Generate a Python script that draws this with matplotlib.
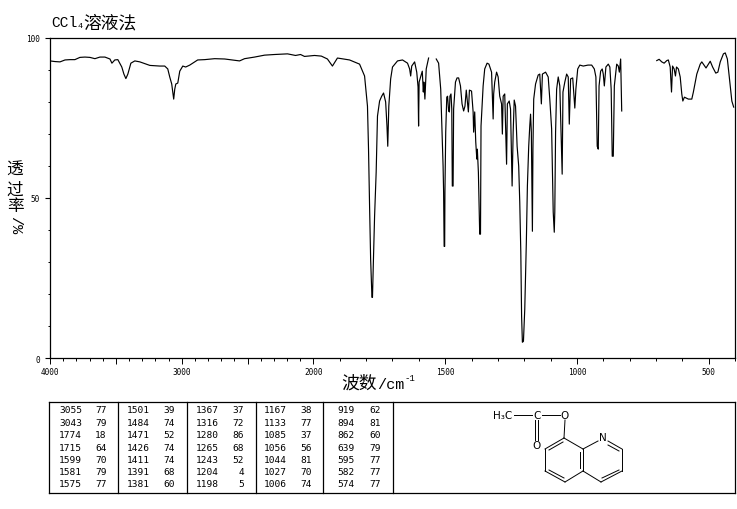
import numpy as np
import matplotlib
matplotlib.use('Agg')
import matplotlib.pyplot as plt
from matplotlib.ticker import FixedLocator, FixedFormatter

# espectro (numero de onda, transmitancia), tres trechos porque a linha tem falhas
wn_a = [4000, 3962, 3924, 3886, 3848, 3811, 3773, 3735, 3697, 3659, 3621, 3583, 3545, 3530, 3508, 3485,
        3455, 3439, 3424, 3409, 3386, 3356, 3318, 3242, 3167, 3129, 3106, 3091, 3076, 3061, 3053, 3045,
        3030, 3015, 2992, 2970, 2939, 2879, 2826, 2750, 2674, 2561, 2523, 2447, 2371, 2295, 2197, 2136,
        2098, 2068, 1996, 1970, 1947, 1928, 1909, 1863, 1825, 1806,
        1795, 1791, 1787, 1783, 1778, 1776, 1773, 1768, 1762, 1757, 1749, 1741, 1734, 1726, 1721, 1718,
        1714, 1707, 1700, 1681, 1662, 1643, 1635, 1631, 1627, 1616, 1608, 1603, 1601, 1599, 1587, 1583,
        1581, 1577, 1572, 1563]
t_a = [92.7, 92.5, 92.4, 93.0, 93.1, 93.1, 93.8, 93.9, 93.8, 93.4, 93.9, 93.9, 93.3, 92.0, 93.0, 93.1,
       90.8, 88.6, 87.2, 88.6, 92.0, 92.7, 92.4, 91.3, 91.1, 91.1, 90.2, 87.7, 85.5, 80.8, 83.9, 85.5,
       85.8, 89.5, 91.1, 90.8, 91.4, 93.0, 93.1, 93.4, 93.3, 92.7, 93.4, 93.9, 94.5, 94.7, 94.9, 94.4,
       94.7, 94.1, 94.4, 94.2, 93.3, 91.1, 93.6, 93.0, 91.7, 88.0,
       78.6, 65.2, 47.4, 30.9, 19.0, 19.0, 28.7, 44.3, 58.0, 75.5, 80.2, 81.7, 82.7, 79.9, 72.4, 66.1,
       78.6, 87.1, 90.8, 92.7, 93.0, 92.0, 90.2, 88.0, 91.1, 92.4, 89.2, 84.6, 72.4, 86.1, 89.5, 83.0,
       86.1, 80.8, 90.2, 93.6]

wn_b = [1534, 1525, 1517, 1512, 1508, 1506, 1504, 1502, 1501, 1498, 1494, 1491, 1487, 1484, 1482, 1478,
        1475, 1473, 1470, 1468, 1461, 1455, 1449, 1442, 1436, 1430, 1425, 1420, 1412, 1408, 1400, 1394,
        1392, 1388, 1384, 1380, 1378, 1374, 1369, 1366, 1364, 1356, 1350, 1341, 1334, 1324, 1318, 1316,
        1312, 1305, 1299, 1293, 1286, 1283, 1280, 1274, 1267, 1264, 1257, 1252, 1246, 1242, 1238, 1233,
        1227, 1221, 1217, 1213, 1210, 1207, 1203, 1198, 1192, 1188, 1183, 1179, 1176, 1173, 1169, 1167,
        1164, 1157, 1147, 1141, 1135, 1131, 1119, 1109, 1103, 1096, 1090, 1086, 1084, 1081, 1077, 1071,
        1065, 1058, 1056, 1053, 1046, 1039, 1033, 1029, 1024, 1016, 1011, 1008, 1004, 997, 989, 976,
        958, 944, 934, 928, 923, 919, 916, 910, 904, 900, 896, 890, 881, 875, 870, 866,
        862, 858, 849, 843, 839, 834, 830]
t_b = [93.3, 92.0, 83.9, 70.5, 59.9, 51.8, 34.9, 34.9, 51.8, 70.5, 81.4, 81.7, 77.1, 76.8, 81.7, 82.4,
       77.7, 53.7, 53.7, 77.7, 86.1, 87.4, 87.4, 84.9, 79.3, 77.1, 78.6, 83.6, 76.8, 83.6, 83.3, 76.8,
       70.5, 76.8, 67.4, 62.1, 65.2, 58.0, 38.7, 38.7, 72.4, 84.9, 90.2, 92.0, 91.7, 89.2, 74.6, 82.4,
       86.1, 89.2, 87.7, 81.7, 79.3, 69.9, 81.7, 82.4, 60.5, 79.3, 80.2, 77.7, 53.7, 70.5, 80.5, 78.6,
       66.1, 59.9, 48.7, 33.1, 13.1, 5.0, 5.3, 15.3, 36.2, 53.7, 66.1, 72.4, 76.1, 70.5, 39.6, 65.2,
       80.8, 85.5, 88.3, 88.6, 79.3, 88.6, 89.2, 87.7, 80.8, 71.5, 45.6, 39.3, 45.6, 70.5, 83.9, 87.7,
       84.9, 63.0, 57.4, 83.0, 86.1, 88.6, 87.7, 73.0, 87.1, 87.4, 81.7, 78.0, 83.9, 90.2, 91.4, 91.1,
       91.4, 91.4, 90.2, 87.7, 66.1, 65.2, 84.9, 89.5, 90.2, 88.6, 84.9, 90.8, 91.7, 90.8, 83.9, 63.0,
       63.0, 84.9, 91.7, 91.1, 89.2, 93.3, 77.1]

wn_c = [697, 688, 678, 669, 659, 653, 646, 641, 637, 631, 626, 622, 615, 608, 602, 598, 592, 577, 564,
        558, 545, 532, 526, 510, 494, 485, 473, 465, 456, 444, 437, 429, 420, 412, 405]
t_c = [92.8, 93.2, 92.4, 92.0, 92.8, 93.0, 90.8, 83.0, 91.1, 90.2, 88.0, 90.8, 90.2, 87.7, 82.4, 80.2,
       81.4, 80.8, 80.8, 83.0, 88.6, 91.7, 92.4, 90.5, 92.6, 90.8, 88.9, 89.2, 92.4, 94.9, 95.2, 93.3,
       86.4, 80.2, 78.3]

# tabela de picos
col_wn = [[3055, 3043, 1774, 1715, 1599, 1581, 1575],
          [1501, 1484, 1471, 1426, 1411, 1391, 1381],
          [1367, 1316, 1280, 1265, 1243, 1204, 1198],
          [1167, 1133, 1085, 1056, 1044, 1027, 1006],
          [919, 894, 862, 639, 595, 582, 574]]
col_t = [[77, 79, 18, 64, 70, 79, 77],
         [39, 74, 52, 74, 74, 68, 60],
         [37, 72, 86, 68, 52, 4, 5],
         [38, 77, 37, 56, 81, 70, 74],
         [62, 81, 60, 79, 77, 77, 77]]

major_x_long = [4000, 3500, 3000, 2500, 2000, 1500, 1000, 500]
minor_x = list(range(400, 4000, 100))
major_y = [0, 50, 100]
minor_y = [10, 20, 30, 40, 60, 70, 80, 90]


def comprime(w):
    w = np.asarray(w, dtype=float)
    return np.where(w <= 2000, w, 2000 + (w - 2000) / 2)


def expande(v):
    v = np.asarray(v, dtype=float)
    return np.where(v <= 2000, v, 2000 + (v - 2000) * 2)


W, H = 737, 510
fig = plt.figure(figsize=(W / 100, H / 100), dpi=100, facecolor='white')
ax = fig.add_axes([50 / W, 1 - 359.3 / H, 685 / W, 320.8 / H])
ax.set_xscale('function', functions=(comprime, expande))
ax.set_xlim(4000, 400)
ax.set_ylim(0, 100)

for w, t in [(wn_a, t_a), (wn_b, t_b), (wn_c, t_c)]:
    ax.plot(w, t, color='black', lw=0.85)

ax.xaxis.set_major_locator(FixedLocator(major_x_long))
ax.xaxis.set_major_formatter(FixedFormatter(['4000', '', '3000', '', '2000', '1500', '1000', '500']))
ax.xaxis.set_minor_locator(FixedLocator(minor_x))
ax.yaxis.set_major_locator(FixedLocator(major_y))
ax.yaxis.set_minor_locator(FixedLocator(minor_y))
ax.tick_params(axis='x', which='major', length=4.3, width=0.7, pad=2)
ax.tick_params(axis='x', which='minor', length=1.8, width=0.7)
ax.tick_params(axis='y', which='major', length=3.6, width=0.8, pad=3.5)
ax.tick_params(axis='y', which='minor', length=1.4, width=0.7)
for lab in ax.get_xticklabels() + ax.get_yticklabels():
    lab.set_fontfamily('DejaVu Sans Mono')
    lab.set_fontsize(5.6)
for s in ax.spines.values():
    s.set_linewidth(0.9)

# camada em pixels para textos, tabela e molecula
ov = fig.add_axes([0, 0, 1, 1], facecolor='none')
ov.set_xlim(0, W)
ov.set_ylim(H, 0)
ov.axis('off')

cjk = 'Noto Sans CJK SC'
mono = 'Liberation Mono'
ov.text(51, 23, 'CCl', family=mono, fontsize=10.5, ha='left', va='center')
ov.text(77.5, 26, '4', family=mono, fontsize=6, ha='left', va='center')
ov.text(83, 23, '溶液法', family=cjk, fontsize=12.8, ha='left', va='center')
ov.text(341, 384, '波数', family=cjk, fontsize=12.8, ha='left', va='center')
ov.text(377, 385, '/cm', family=mono, fontsize=11, ha='left', va='center')
ov.text(405, 379, '-1', family=mono, fontsize=6.5, ha='left', va='center')
ov.text(15, 170, '透', family=cjk, fontsize=12, ha='center', va='center')
ov.text(15, 190, '过', family=cjk, fontsize=12, ha='center', va='center')
ov.text(15, 207, '率', family=cjk, fontsize=12, ha='center', va='center')
ov.text(15, 225, '/%', family=mono, fontsize=11, ha='center', va='center', rotation=-90)

# tabela
ov.plot([49.5, 735], [402.5, 402.5], color='black', lw=0.9)
ov.plot([49.5, 735], [494, 494], color='black', lw=0.9)
for x in [49.5, 118, 187, 256, 323, 393, 735]:
    ov.plot([x, x], [402.5, 494], color='black', lw=0.9)

linhas_y = [411, 423.5, 436, 448.5, 460.5, 472.8, 485]
fim_wn = [82, 150, 219, 287, 355]
fim_t = [106.7, 175, 244, 312, 380.7]
for c in range(5):
    for r in range(7):
        ov.text(fim_wn[c], linhas_y[r], str(col_wn[c][r]), family='DejaVu Sans Mono', fontsize=6.8,
                ha='right', va='center')
        ov.text(fim_t[c], linhas_y[r], str(col_t[c][r]), family='DejaVu Sans Mono', fontsize=6.8,
                ha='right', va='center')

# molecula
c8, c8a, c4a = (564, 439), (583, 450), (583, 472)
c5, c6, c7 = (565, 483), (545, 472), (545, 450)
n1, c2, c3, c4 = (603, 439), (622, 450), (622, 472), (601, 483)
ligacoes = [(c8, c8a), (c8a, c4a), (c4a, c5), (c5, c6), (c6, c7), (c7, c8),
            ((583, 450), (598, 442)), ((608, 442), c2), (c2, c3), (c3, c4), (c4, c4a),
            ((514, 416), (532, 416)), ((542, 416), (560, 416)), ((565, 421), c8),
            ((535, 421), (535, 441)), ((538.5, 421), (538.5, 441)),
            ((549, 451), (563, 443)), ((549, 471), (564, 479)), ((580, 453), (580, 469)),
            ((608, 446), (619, 452)), ((619, 471), (602, 479))]
for a, b in ligacoes:
    ov.plot([a[0], b[0]], [a[1], b[1]], color='black', lw=0.7)
atomos = [('C', 537, 416), ('O', 565, 416), ('O', 537, 446), ('N', 603, 438)]
for nome, x, y in atomos:
    ov.text(x, y, nome, family='DejaVu Sans', fontsize=7.5, ha='center', va='center')
ov.text(503, 416, 'H₃C', family='DejaVu Sans', fontsize=7.5, ha='center', va='center')

fig.savefig('out.png', dpi=100)
